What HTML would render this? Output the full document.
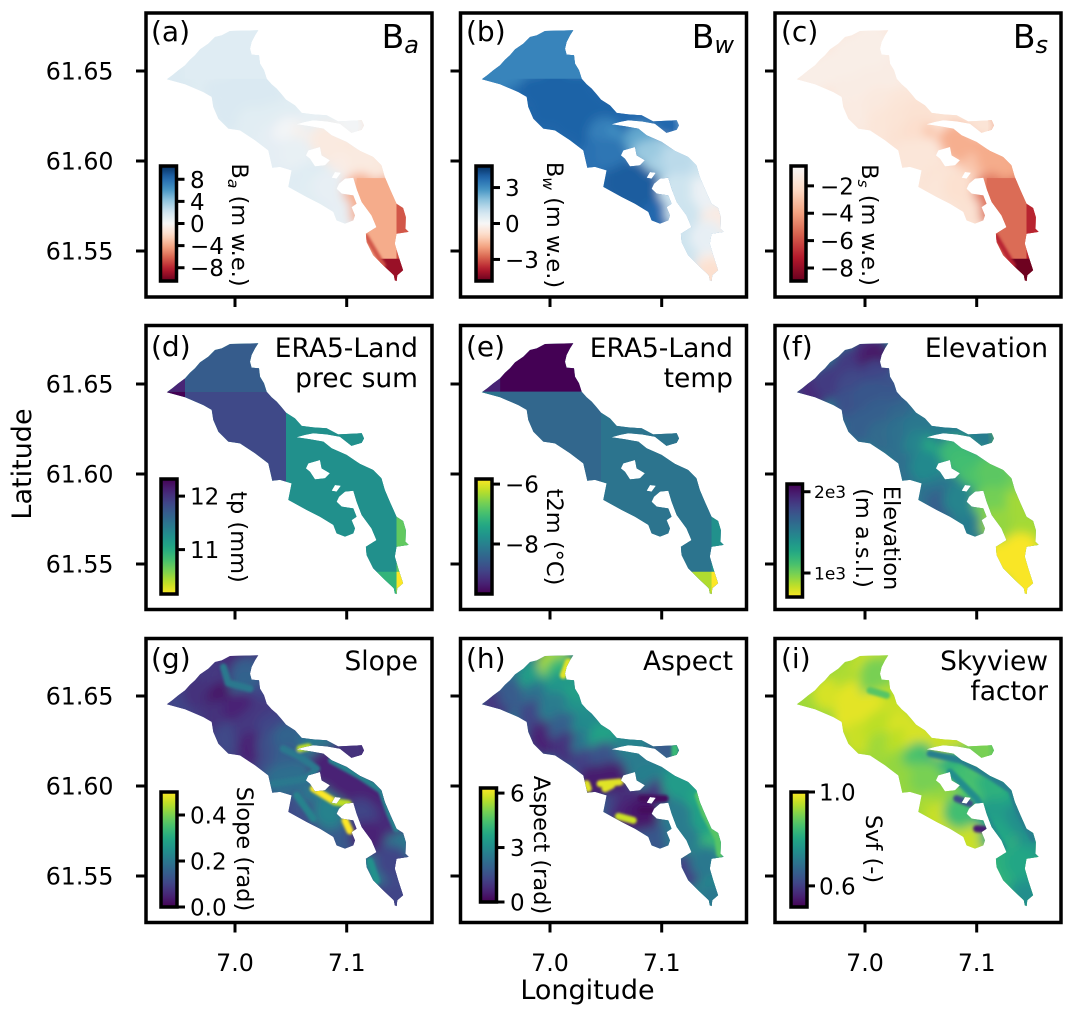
<!DOCTYPE html>
<html lang="en">
<head>
<meta charset="utf-8">
<title>Glacier mass balance and predictor maps</title>
<style>
html,body{margin:0;padding:0;background:#fff;}
svg{display:block;}
text{font-family:"DejaVu Sans","Liberation Sans",sans-serif;fill:#000;}
.tick{font-size:23.7px;}
.axis{font-size:27px;}
.ttl{font-size:26.5px;}
.ltr{font-size:28px;}
.big{font-size:33px;}
.sub{font-size:24px;font-style:italic;}
.cbl{font-size:22.5px;}
.cbs{font-size:15.5px;font-style:italic;}
.frame{fill:none;stroke:#000;stroke-width:3.5;}
</style>
</head>
<body>
<svg id="figure" xmlns="http://www.w3.org/2000/svg" width="1074" height="1016" viewBox="0 0 1074 1016">
<rect width="1074" height="1016" fill="#fff"/>
<defs id="defs">
<filter id="soft" x="-15%" y="-15%" width="130%" height="130%"><feGaussianBlur stdDeviation="5"/></filter>
<filter id="soft-accent" x="-30%" y="-30%" width="160%" height="160%"><feGaussianBlur stdDeviation="1.2"/></filter>
</defs>
<g id="maps"></g>
<g id="axes"></g>

<g>
<text class="ltr" x="151" y="41">(a)</text>
<text class="big" x="419" y="48" text-anchor="end">B<tspan class="sub" dy="5">a</tspan></text>
<text class="cbl" transform="translate(232,225) rotate(90)" text-anchor="middle">B<tspan class="cbs" dy="4">a</tspan><tspan dy="-4"> (m w.e.)</tspan></text>
</g>
<g>
<text class="ltr" x="466" y="41">(b)</text>
<text class="big" x="734" y="48" text-anchor="end">B<tspan class="sub" dy="5">w</tspan></text>
<text class="cbl" transform="translate(547,225) rotate(90)" text-anchor="middle">B<tspan class="cbs" dy="4">w</tspan><tspan dy="-4"> (m w.e.)</tspan></text>
</g>
<g>
<text class="ltr" x="781" y="41">(c)</text>
<text class="big" x="1048" y="48" text-anchor="end">B<tspan class="sub" dy="5">s</tspan></text>
<text class="cbl" transform="translate(862,225) rotate(90)" text-anchor="middle">B<tspan class="cbs" dy="4">s</tspan><tspan dy="-4"> (m w.e.)</tspan></text>
</g>
<g>
<text class="ltr" x="151" y="356">(d)</text>
<text class="ttl" x="418" y="357" text-anchor="end">ERA5-Land</text>
<text class="ttl" x="418" y="387" text-anchor="end">prec sum</text>
<text class="cbl" transform="translate(231,537) rotate(90)" text-anchor="middle">tp (mm)</text>
</g>
<g>
<text class="ltr" x="466" y="356">(e)</text>
<text class="ttl" x="733" y="357" text-anchor="end">ERA5-Land</text>
<text class="ttl" x="733" y="387" text-anchor="end">temp</text>
<text class="cbl" transform="translate(547,537) rotate(90)" text-anchor="middle">t2m (°C)</text>
</g>
<g>
<text class="ltr" x="781" y="356">(f)</text>
<text class="ttl" x="1048" y="357" text-anchor="end">Elevation</text>
<text class="cbl" transform="translate(884,538) rotate(90)" text-anchor="middle">Elevation</text>
<text class="cbl" transform="translate(856,538) rotate(90)" text-anchor="middle">(m a.s.l.)</text>
</g>
<g>
<text class="ltr" x="151" y="668">(g)</text>
<text class="ttl" x="418" y="670" text-anchor="end">Slope</text>
<text class="cbl" transform="translate(237,849) rotate(90)" text-anchor="middle">Slope (rad)</text>
</g>
<g>
<text class="ltr" x="466" y="668">(h)</text>
<text class="ttl" x="733" y="670" text-anchor="end">Aspect</text>
<text class="cbl" transform="translate(534,845) rotate(90)" text-anchor="middle">Aspect (rad)</text>
</g>
<g>
<text class="ltr" x="781" y="668">(i)</text>
<text class="ttl" x="1048" y="670" text-anchor="end">Skyview</text>
<text class="ttl" x="1048" y="700" text-anchor="end">factor</text>
<text class="cbl" transform="translate(866,849) rotate(90)" text-anchor="middle">Svf (-)</text>
</g>
<text class="axis" transform="translate(31,464) rotate(-90)" text-anchor="middle">Latitude</text>
<text class="axis" x="587.5" y="999" text-anchor="middle">Longitude</text>
</svg>

<script>
/* axis ticks */
const lonTicks = [7.0, 7.1];
const lonTickLabels = ['7.0', '7.1'];
const latTicks = [61.65, 61.60, 61.55];
const latTickLabels = ['61.65', '61.60', '61.55'];

/* glacier outline (degrees) */
const glacierLon = [6.9389,6.9439,6.9493,6.9552,6.9597,6.9642,6.9687,6.9762,6.9821,6.9881,6.9955,7.0209,7.0179,7.0149,7.0134,7.0149,7.0215,7.0224,7.0260,7.0284,7.0328,7.0373,7.0418,7.0457,7.0537,7.0597,7.0701,7.0821,7.0924,7.1134,7.1155,7.1134,7.1043,7.0939,7.0821,7.0701,7.0627,7.0551,7.0671,7.0791,7.0865,7.0999,7.1118,7.1237,7.1311,7.1341,7.1386,7.1446,7.1505,7.1529,7.1526,7.1555,7.1446,7.1431,7.1461,7.1505,7.1453,7.1447,7.1431,7.1422,7.1328,7.1237,7.1178,7.1172,7.1267,7.1222,7.1134,7.1089,7.1059,7.0985,7.0931,7.0910,7.0955,7.1059,7.1089,7.1044,7.1074,7.1059,7.0985,7.0910,7.0880,7.0761,7.0642,7.0477,7.0507,7.0403,7.0334,7.0319,7.0298,7.0179,7.0045,6.9940,6.9851,6.9806,6.9791,6.9717,6.9553];
const glacierLat = [61.6454,61.6476,61.6504,61.6531,61.6563,61.6587,61.6620,61.6652,61.6689,61.6698,61.6722,61.6726,61.6698,61.6661,61.6624,61.6591,61.6587,61.6541,61.6504,61.6457,61.6426,61.6402,61.6370,61.6341,61.6309,61.6267,61.6259,61.6254,61.6220,61.6226,61.6198,61.6174,61.6156,61.6207,61.6220,61.6226,61.6217,61.6204,61.6193,61.6180,61.6143,61.6106,61.6056,61.6022,61.5976,61.5911,61.5846,61.5763,61.5739,61.5689,61.5624,61.5606,61.5596,61.5541,61.5476,61.5393,61.5365,61.5333,61.5337,61.5365,61.5420,61.5476,61.5550,61.5596,61.5633,61.5698,61.5772,61.5846,61.5907,61.5902,61.5874,61.5846,61.5819,61.5809,61.5763,61.5744,61.5698,61.5670,61.5652,61.5670,61.5717,61.5763,61.5800,61.5856,61.5948,61.5967,61.5963,61.6004,61.6059,61.6115,61.6170,61.6180,61.6235,61.6300,61.6356,61.6383,61.6426];
const holeOneLon = [7.0656,7.0761,7.0775,7.0850,7.0806,7.0716,7.0671,7.0635];
const holeOneLat = [61.6059,61.6078,61.6031,61.6004,61.5976,61.5970,61.6013,61.6031];
const holeTwoLon = [7.0895,7.0948,7.0910,7.0865];
const holeTwoLat = [61.5939,61.5935,61.5902,61.5907];

/* sample locations along the glacier and field values at each of them */
const knotLon = [6.9523,6.9687,6.9866,7.0045,7.0104,6.9896,7.0104,7.0224,6.9866,7.0045,7.0254,6.9955,7.0134,7.0343,7.0164,7.0343,7.0492,7.0343,7.0492,7.0671,7.0403,7.0552,7.0731,7.1030,7.0821,7.1000,7.0880,7.1179,7.1000,7.1238,7.0612,7.0731,7.0850,7.0701,7.0970,7.0850,7.1238,7.1388,7.1328,7.1268,7.1328,7.1447,7.1492,7.1417,7.1313,7.1373,7.1149,7.1209,7.1403,7.1119,7.1447,7.1179];
const knotLat = [61.6463,61.6513,61.6606,61.6680,61.6624,61.6485,61.6541,61.6467,61.6383,61.6430,61.6393,61.6263,61.6319,61.6319,61.6207,61.6226,61.6263,61.6115,61.6152,61.6143,61.6022,61.6041,61.6235,61.6193,61.6115,61.6041,61.6022,61.5967,61.5948,61.5874,61.5874,61.5911,61.5781,61.5828,61.5698,61.5856,61.5763,61.5726,61.5652,61.5578,61.5504,61.5420,61.5670,61.5491,61.5930,61.5819,61.6013,61.5528,61.5578,61.5837,61.5365,61.5713];
const baValues = [1.5,1.3,1.5,1.3,1.3,1,1.3,1.5,1.6,1.6,1.6,1.6,1.6,1.6,1.2,1.2,1.2,1,0.3,-0.5,1,0.8,0.8,0.3,-1,-1.2,-1,-1,-0.8,-4,1.3,1.3,1.1,1.2,0.9,0.9,-3.8,-4,-4.6,-3.8,-3.8,-9,-6.5,-6,-1.2,-4.5,-1,-5,-4.5,-3.8,-9,-3.8];
const bwValues = [3.2,3.2,3.2,3.2,3.2,3.2,3.2,3.2,3.9,3.9,3.9,3.9,3.9,3.9,3.9,3.9,3.9,3.9,3.3,2.9,3.6,3.5,3.8,3.8,2.5,1.6,1.8,1.3,1.6,1.1,4,4,4,4,3.8,4,1,0.6,0.9,1.2,1.4,0.2,-0.4,-0.3,1,0.3,1.3,1,0.4,1,-0.8,1];
const bsValues = [-1.1,-1.1,-1.1,-1.1,-1.1,-1.1,-1.1,-1.2,-1.2,-1.2,-1.2,-1.3,-1.4,-1.6,-1.6,-1.7,-1.8,-1.8,-2,-3,-1.6,-1.6,-1.8,-1.7,-3.6,-3.8,-3.6,-3.7,-2.9,-5.5,-1.7,-1.7,-1.6,-1.6,-1.8,-1.9,-5.3,-5.6,-5.5,-5.2,-5.3,-8.8,-7,-7,-3.8,-5.5,-3.7,-5.5,-5.4,-5,-8.8,-5.2];
const elevationValues = [1928,1860,1860,1930,2025,1790,1818,1749,1749,1721,1708,1680,1680,1640,1611,1583,1542,1583,1473,1238,1583,1445,1514,1514,1156,1128,1128,1059,1100,1018,1583,1542,1514,1680,1514,1473,921,880,852,714,714,714,893,714,1000,900,1060,714,714,1000,714,930];
const slopeValues = [0.1,0.07,0.08,0.05,0.15,0.03,0.16,0.1,0.07,0.05,0.08,0.11,0.08,0.1,0.05,0.12,0.16,0.12,0.15,0.14,0.18,0.18,0.2,0.07,0.05,0.05,0.05,0.06,0.05,0.06,0.12,0.2,0.15,0.12,0.14,0.22,0.06,0.04,0.08,0.1,0.07,0.08,0.2,0.12,0.05,0.06,0.05,0.2,0.1,0.1,0.1,0.05];
const aspectValues = [1,1.8,3.5,5.5,4.2,2.3,3.3,3.6,1.3,2.6,3.2,0.6,1.9,3,0.9,2.4,3.6,1.2,1.6,1.8,0.5,0.5,2.8,1.8,2.6,2.9,2.7,3.3,1,3,1.3,0.8,1.7,0.6,1.7,0.4,2.8,2.6,2.6,3.8,2.5,2.5,4.2,3,3.8,3.6,3.4,1.2,2.5,2.6,2.5,2.6];
const svfValues = [0.93,0.97,0.94,0.96,0.9,0.98,0.9,0.95,0.98,0.98,0.96,0.96,0.95,0.97,0.93,0.95,0.97,0.92,0.86,0.82,0.92,0.9,0.96,0.9,0.82,0.88,0.85,0.9,0.86,0.87,0.94,0.92,0.95,0.96,0.96,0.85,0.88,0.83,0.86,0.84,0.82,0.76,0.76,0.77,0.8,0.75,0.82,0.82,0.8,0.78,0.75,0.8];

/* coarse climate-grid cells (degrees) and per-field cell values */
const cellLonMin = [6.93,6.93,6.9553,6.9553,7.0457,7.1446,7.1,7.1446,7.109,7.1446,7.13];
const cellLonMax = [6.9553,6.9553,7.0457,7.0457,7.1446,7.16,7.1446,7.16,7.1446,7.16,7.16];
const cellLatMin = [61.6457,61.64,61.6457,61.58,61.5457,61.5457,61.53,61.53,61.53,61.5457,61.53];
const cellLatMax = [61.68,61.6457,61.68,61.6457,61.64,61.58,61.5457,61.5457,61.5905,61.595,61.5457];
const baCells = [null,null,1.3,null,null,null,null,null,-3.9,-6.5,-9];
const bwCells = [3.2,null,3.2,null,null,null,null,null,null,null,null];
const bsCells = [null,null,null,null,null,null,null,null,-5.3,-7,-8.8];
const precipCells = [12.1,12.32,11.7,11.85,11.25,10.7,10.92,10.17,null,null,null];
const tempCells = [-9.3,-8.2,-9.67,-8.4,-8.2,-7.75,-6.29,-5.83,null,null,null];

/* narrow features: polylines in degrees, with one value each */
const baRidgeLon = [[7.1172,7.1328]];
const baRidgeLat = [[61.5583,61.5420]];
const baRidgeValues = [-6.5];
const bsRidgeLon = [[7.1172,7.1328]];
const bsRidgeLat = [[61.5583,61.5420]];
const bsRidgeValues = [-7];
const slopeRidgeLon = [[7.0701,7.0895],[7.0895,7.1014],[7.0985,7.1029],[7.0582,7.0656],[6.9896,6.9940,7.0134],[7.0432,7.0582,7.0731,7.0642,7.0343],[7.0865,7.1118,7.1311,7.1386,7.1446],[7.0552,7.0701],[7.1208,7.1267]];
const slopeRidgeLat = [[61.5985,61.5911],[61.5911,61.5902],[61.5809,61.5750],[61.6207,61.6217],[61.6661,61.6572,61.6541],[61.6207,61.6161,61.6096,61.6041,61.6013],[61.6143,61.6056,61.5976,61.5846,61.5763],[61.5948,61.5819],[61.5583,61.5472]];
const slopeRidgeValues = [0.5,0.45,0.5,0.45,0.2,0.2,0.22,0.22,0.25];
const aspectRidgeLon = [[7.0164,7.0119],[7.0448,7.0627],[7.0492,7.0552],[7.0328,7.0343],[7.0612,7.0746],[7.1328,7.1386,7.1505,7.1520],[7.1118,7.1118],[7.0821,7.1029],[7.0821,7.0910]];
const aspectRidgeLat = [[61.6689,61.6615],[61.6013,61.6022],[61.5985,61.6004],[61.6013,61.5985],[61.5831,61.5809],[61.5948,61.5846,61.5707,61.5620],[61.6217,61.6170],[61.5930,61.5930],[61.5865,61.5865]];
const aspectRidgeValues = [6,6,6,6,5.8,4.6,4.2,0.2,0.2];
const svfRidgeLon = [[7.0582,7.0865,7.1118,7.1311,7.1386,7.1505],[7.0761,7.0999,7.1118,7.1237],[7.0999,7.1074],[7.0821,7.0939],[7.0045,7.0194]];
const svfRidgeLat = [[61.6180,61.6143,61.6056,61.5976,61.5846,61.5707],[61.6078,61.5930,61.5787,61.5657],[61.5763,61.5759],[61.5930,61.5902],[61.6531,61.6504]];
const svfRidgeValues = [0.72,0.75,0.55,0.62,0.87];

/* colorbar ticks */
const baTicks = [8,4,0,-4,-8];
const baTickLabels = ['8','4','0','−4','−8'];
const bwTicks = [3,0,-3];
const bwTickLabels = ['3','0','−3'];
const bsTicks = [-2,-4,-6,-8];
const bsTickLabels = ['−2','−4','−6','−8'];
const precipTicks = [12,11];
const precipTickLabels = ['12','11'];
const tempTicks = [-6,-8];
const tempTickLabels = ['−6','−8'];
const elevationTicks = [2000,1000];
const elevationTickLabels = ['2e3','1e3'];
const slopeTicks = [0.4,0.2,0];
const slopeTickLabels = ['0.4','0.2','0.0'];
const aspectTicks = [6,3,0];
const aspectTickLabels = ['6','3','0'];
const svfTicks = [1.0,0.6];
const svfTickLabels = ['1.0','0.6'];

const NS = 'http://www.w3.org/2000/svg';
const VIRIDIS = ['#440154','#482475','#414487','#355f8d','#2a788e','#21918c','#22a884','#44bf70','#7ad151','#bddf26','#fde725'];
const RDBU = ['#67001f','#b2182b','#d6604d','#f4a582','#fddbc7','#f7f7f7','#d1e5f0','#92c5de','#4393c3','#2166ac','#053061'];

function hexRgb(h){return [1,3,5].map(function(i){return parseInt(h.substr(i,2),16);});}
function ramp(stops,t){
  t=Math.max(0,Math.min(1,t));
  var p=t*(stops.length-1),i=Math.min(stops.length-2,Math.floor(p)),f=p-i;
  var a=hexRgb(stops[i]),b=hexRgb(stops[i+1]);
  return 'rgb('+a.map(function(v,k){return Math.round(v+(b[k]-v)*f);}).join(',')+')';
}
const cmapViridis=function(t){return ramp(VIRIDIS,t);};
const cmapViridisR=function(t){return ramp(VIRIDIS,1-t);};
const cmapRdBu=function(t){return ramp(RDBU,t);};
const cmapRedHalf=function(t){return ramp(RDBU,t*0.5);};

function make(tag,attrs,parent){
  var el=document.createElementNS(NS,tag);
  Object.keys(attrs).forEach(function(k){el.setAttribute(k,attrs[k]);});
  parent.appendChild(el);
  return el;
}

const colLon7X=[235,550,865];
const colLeft=[146,460.5,775];
const rowTop=[13,325.5,638.5];
const rowLat65Y=[71,384,696];
const PANEL_W=286, PANEL_H=284;
const BASE_SPLIT_LON=7.11;

const panels=[
 {id:'a',col:0,row:0,cmap:cmapRdBu,min:-10.4,max:10.4,base:1.2,baseEast:-2,knots:baValues,cells:baCells,rLon:baRidgeLon,rLat:baRidgeLat,rVal:baRidgeValues,rw:5,bar:[160.5,166,16,115],tickX:190,ticks:baTicks,labels:baTickLabels,font:23},
 {id:'b',col:1,row:0,cmap:cmapRdBu,min:-4.8,max:4.8,base:3.7,baseEast:1,knots:bwValues,cells:bwCells,rLon:[],rLat:[],rVal:[],rw:5,bar:[476,166,16,115],tickX:505,ticks:bwTicks,labels:bwTickLabels,font:23},
 {id:'c',col:2,row:0,cmap:cmapRedHalf,min:-8.95,max:-0.55,base:-1.5,baseEast:-4.5,knots:bsValues,cells:bsCells,rLon:bsRidgeLon,rLat:bsRidgeLat,rVal:bsRidgeValues,rw:5,bar:[791,166,15,115],tickX:820,ticks:bsTicks,labels:bsTickLabels,font:23},
 {id:'d',col:0,row:1,cmap:cmapViridisR,min:10.17,max:12.32,base:11.25,baseEast:11.25,knots:null,cells:precipCells,rLon:[],rLat:[],rVal:[],rw:5,bar:[161,479,16,115],tickX:190,ticks:precipTicks,labels:precipTickLabels,font:23},
 {id:'e',col:1,row:1,cmap:cmapViridis,min:-9.67,max:-5.83,base:-8.2,baseEast:-8.2,knots:null,cells:tempCells,rLon:[],rLat:[],rVal:[],rw:5,bar:[476,479,16,115],tickX:505,ticks:tempTicks,labels:tempTickLabels,font:23},
 {id:'f',col:2,row:1,cmap:cmapViridisR,min:705,max:2095,base:1500,baseEast:950,knots:elevationValues,cells:null,rLon:[],rLat:[],rVal:[],rw:5,bar:[787,484,15.5,113],tickX:814,ticks:elevationTicks,labels:elevationTickLabels,font:17},
 {id:'g',col:0,row:2,cmap:cmapViridis,min:0,max:0.5,base:0.09,baseEast:0.06,knots:slopeValues,cells:null,rLon:slopeRidgeLon,rLat:slopeRidgeLat,rVal:slopeRidgeValues,rw:7,bar:[161,792,16,115],tickX:190,ticks:slopeTicks,labels:slopeTickLabels,font:23},
 {id:'h',col:1,row:2,cmap:cmapViridis,min:0,max:6.28,base:2.4,baseEast:3,knots:aspectValues,cells:null,rLon:aspectRidgeLon,rLat:aspectRidgeLat,rVal:aspectRidgeValues,rw:7,bar:[480.5,788,16,114],tickX:510,ticks:aspectTicks,labels:aspectTickLabels,font:23},
 {id:'i',col:2,row:2,cmap:cmapViridis,min:0.51,max:1.0,base:0.92,baseEast:0.82,knots:svfValues,cells:null,rLon:svfRidgeLon,rLat:svfRidgeLat,rVal:svfRidgeValues,rw:7,bar:[791,792,16,115],tickX:819,ticks:svfTicks,labels:svfTickLabels,font:23}
];

const maps=document.getElementById('maps');
const axes=document.getElementById('axes');
const defs=document.getElementById('defs');

function ringPath(lons,lats,xS,yS){
  return 'M'+lons.map(function(lon,i){return xS(lon).toFixed(1)+' '+yS(lats[i]).toFixed(1);}).join('L')+'Z';
}

panels.forEach(function(p){
  const xS=function(lon){return colLon7X[p.col]+(lon-7)*1117;};
  const yS=function(lat){return rowLat65Y[p.row]+(61.65-lat)*1800;};
  const color=function(v){return p.cmap((v-p.min)/(p.max-p.min));};

  /* glacier mask */
  const clip=make('clipPath',{id:'clip-'+p.id},defs);
  make('path',{d:ringPath(glacierLon,glacierLat,xS,yS)+ringPath(holeOneLon,holeOneLat,xS,yS)+ringPath(holeTwoLon,holeTwoLat,xS,yS),'clip-rule':'evenodd'},clip);

  const map=make('g',{'clip-path':'url(#clip-'+p.id+')'},maps);
  
  

  const base=make('rect',{x:colLeft[p.col],y:rowTop[p.row],width:PANEL_W,height:PANEL_H,fill:color(p.base)},map);
  
  
  const baseEast=make('rect',{x:xS(BASE_SPLIT_LON),y:rowTop[p.row],width:colLeft[p.col]+PANEL_W-xS(BASE_SPLIT_LON),height:PANEL_H,fill:color(p.baseEast)},map);
  
  

  if(p.knots){
    const field=make('g',{filter:'url(#soft)'},map);
    
    
    p.knots.forEach(function(v,i){
      const c=make('circle',{cx:xS(knotLon[i]),cy:yS(knotLat[i]),r:17,fill:color(v)},field);
      
      
    });
  }
  if(p.cells){
    p.cells.forEach(function(v,i){
      if(v===null) return;
      const x0=xS(cellLonMin[i]),x1=xS(cellLonMax[i]),y0=yS(cellLatMax[i]),y1=yS(cellLatMin[i]);
      const r=make('rect',{x:x0,y:y0,width:x1-x0,height:y1-y0,fill:color(v)},map);
      
      
    });
  }
  if(p.rVal.length){
    const lines=make('g',{filter:'url(#soft-accent)',fill:'none','stroke-width':p.rw,'stroke-linecap':'round','stroke-linejoin':'round'},map);
    
    
    p.rVal.forEach(function(v,i){
      const pts=p.rLon[i].map(function(lon,k){return xS(lon).toFixed(1)+','+yS(p.rLat[i][k]).toFixed(1);}).join(' ');
      const l=make('polyline',{points:pts,stroke:color(v)},lines);
      
      
    });
  }

  /* frame and axis ticks */
  const left=colLeft[p.col],top=rowTop[p.row],bottom=top+PANEL_H;
  const ax=make('g',{},axes);
  
  
  const frame=make('rect',{x:left,y:top,width:PANEL_W,height:PANEL_H,'class':'frame'},ax);
  
  
  lonTicks.forEach(function(lon,i){
    const t=make('line',{x1:xS(lon),x2:xS(lon),y1:bottom,y2:bottom+10,stroke:'#000','stroke-width':3},ax);
    
    
    if(p.row===2){
      const lab=make('text',{x:xS(lon),y:971,'text-anchor':'middle','class':'tick'},ax);
      lab.textContent=lonTickLabels[i];
      
      
    }
  });
  latTicks.forEach(function(lat,i){
    const t=make('line',{x1:left-10,x2:left,y1:yS(lat),y2:yS(lat),stroke:'#000','stroke-width':3},ax);
    
    
    if(p.col===0){
      const lab=make('text',{x:113.5,y:yS(lat)+8.5,'text-anchor':'end','class':'tick'},ax);
      lab.textContent=latTickLabels[i];
      
      
    }
  });

  /* colorbar */
  const gid='grad-'+p.id;
  const grad=make('linearGradient',{id:gid,x1:0,y1:1,x2:0,y2:0},defs);
  for(let s=0;s<=24;s++){
    make('stop',{offset:(s/24),'stop-color':p.cmap(s/24)},grad);
  }
  const bx=p.bar[0],by=p.bar[1],bw=p.bar[2],bh=p.bar[3];
  const cb=make('g',{},ax);
  
  
  const bar=make('rect',{x:bx,y:by,width:bw,height:bh,fill:'url(#'+gid+')',stroke:'#000','stroke-width':3.5},cb);
  
  
  p.ticks.forEach(function(v,i){
    const y=by+(p.max-v)/(p.max-p.min)*bh;
    const t=make('line',{x1:bx+bw,x2:bx+bw+8,y1:y,y2:y,stroke:'#000','stroke-width':3},cb);
    
    
    const lab=make('text',{x:p.tickX,y:y+p.font*0.37,'font-size':p.font},cb);
    lab.textContent=p.labels[i];
    
    
  });
});
</script>
</body>
</html>
